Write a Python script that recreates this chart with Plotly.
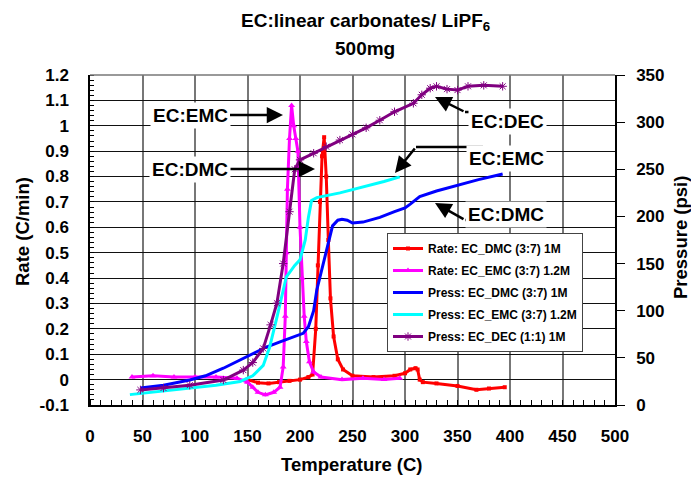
import plotly.graph_objects as go

# ---- data ----
rate_dmc_T = [150, 160, 170, 180, 190, 200, 208, 212, 215, 217, 219, 221, 223, 225, 227, 229, 232, 236, 241, 250, 270, 290, 300, 305, 310, 312, 314, 317, 330, 350, 368, 380, 395]
rate_dmc_v = [0.0, -0.012, -0.015, -0.01, -0.005, 0.0, 0.01, 0.02, 0.2, 0.45, 0.7, 0.88, 0.955, 0.8, 0.55, 0.32, 0.17, 0.08, 0.04, 0.015, 0.01, 0.015, 0.025, 0.04, 0.045, 0.04, 0.0, -0.01, -0.015, -0.025, -0.04, -0.035, -0.03]

rate_emc_T = [40, 60, 80, 100, 120, 140, 150, 155, 160, 167, 175, 181, 184, 186, 187, 188, 190, 192, 194, 196, 198, 200, 202, 204, 206, 209, 213, 220, 240, 260, 280, 295]
rate_emc_v = [0.01, 0.015, 0.01, 0.01, 0.01, 0.005, -0.01, -0.03, -0.05, -0.06, -0.05, -0.03, 0.05, 0.25, 0.5, 0.75, 0.95, 1.08, 1.0, 0.95, 0.9, 0.6, 0.4, 0.25, 0.15, 0.07, 0.03, 0.01, 0.0, 0.005, 0.0, 0.005]

press_dmc_T = [48, 70, 95, 110, 127, 149, 168, 181, 190, 203, 208, 213, 216, 219, 225, 231, 236, 240, 245, 250, 260, 276, 290, 300, 305, 314, 330, 350, 370, 393]
press_dmc_v = [18, 21, 26.5, 31, 39, 51, 61.5, 67, 71, 76, 83, 100, 122, 136, 165, 190, 196, 197, 196, 193, 194, 199, 205, 209, 213, 221, 227, 233, 239, 245]

press_emc_T = [38, 64, 95, 120, 143, 155, 165, 171, 178, 184, 187, 195, 200, 205, 208, 211, 216, 238, 260, 280, 295]
press_emc_v = [11, 14, 18, 21, 25, 31, 42, 61, 93, 122, 136, 148, 154, 175, 199, 217, 220, 225, 231, 237, 242]

press_dec_T = [48, 70, 95, 127, 146, 155, 165, 172, 178, 184, 190, 195, 200, 213, 225, 238, 250, 263, 276, 290, 308, 316, 324, 330, 340, 350, 360, 375, 393]
press_dec_v = [16, 18, 21, 26.5, 37, 45, 60, 85, 108, 150, 205, 250, 260, 267, 274, 281, 287, 294, 302, 311, 320, 329, 336, 338, 335, 334, 338, 339, 338]

x_ticks = [0, 50, 100, 150, 200, 250, 300, 350, 400, 450, 500]
y_ticks = [-0.1, 0, 0.1, 0.2, 0.3, 0.4, 0.5, 0.6, 0.7, 0.8, 0.9, 1, 1.1, 1.2]
y_tick_text = ["-0.1", "0", "0.1", "0.2", "0.3", "0.4", "0.5", "0.6", "0.7", "0.8", "0.9", "1", "1.1", "1.2"]
y2_ticks = [0, 50, 100, 150, 200, 250, 300, 350]

FONT = "Liberation Sans, Arial, sans-serif"
TICKF = dict(size=17, family=FONT, color="black")

fig = go.Figure()
fig.add_trace(go.Scatter(x=rate_dmc_T, y=rate_dmc_v, name="<b>Rate: EC_DMC (3:7) 1M</b>", legendgroup="a",
                         mode="lines+markers", line=dict(color="#FF0000", width=3),
                         marker=dict(symbol="square", size=4, color="#FF0000")))
fig.add_trace(go.Scatter(x=rate_emc_T, y=rate_emc_v, name="<b>Rate: EC_EMC (3:7) 1.2M</b>", legendgroup="b",
                         mode="lines+markers", line=dict(color="#FF00FF", width=3),
                         marker=dict(symbol="triangle-up", size=6, color="#FF00FF")))
fig.add_trace(go.Scatter(x=press_dmc_T, y=press_dmc_v, name="<b>Press: EC_DMC (3:7) 1M</b>", legendgroup="c",
                         mode="lines", line=dict(color="#0000FF", width=3), yaxis="y2"))
fig.add_trace(go.Scatter(x=press_emc_T, y=press_emc_v, name="<b>Press: EC_EMC (3:7) 1.2M</b>", legendgroup="d",
                         mode="lines", line=dict(color="#00FFFF", width=3), yaxis="y2"))
fig.add_trace(go.Scatter(x=press_dec_T, y=press_dec_v, name="<b>Press: EC_DEC (1:1) 1M</b>", legendgroup="e",
                         mode="lines+markers", line=dict(color="#800080", width=3), yaxis="y2",
                         marker=dict(symbol="asterisk-open", size=7, line=dict(color="#800080", width=1))))

L, R, T, B = 90, 615, 75, 405
W, H = 691, 478


def px(xp):
    return (xp - L) / (R - L)


def py(yp):
    return (B - yp) / (B - T)


fig.update_layout(
    width=W, height=H,
    margin=dict(l=L, r=W - R, t=T, b=H - B, autoexpand=False),
    paper_bgcolor="white", plot_bgcolor="white",
    font=dict(family=FONT, color="black"),
    showlegend=True,
    legend=dict(x=px(387), y=py(233), xanchor="left", yanchor="top",
                bgcolor="white", bordercolor="#444", borderwidth=1,
                font=dict(size=12, family=FONT), itemwidth=30,
                traceorder="grouped", tracegroupgap=3),
    xaxis=dict(range=[0, 500], tickvals=x_ticks, ticktext=["<b>%d</b>" % v for v in x_ticks],
               showgrid=True, gridcolor="#777", gridwidth=1.5, automargin=False,
               showline=True, linecolor="black", linewidth=1.5,
               ticks="", ticklabelstandoff=15, zeroline=False, tickfont=TICKF,
               minor=dict(dtick=10, ticks="inside", ticklen=5, tickcolor="black", showgrid=False)),
    yaxis=dict(range=[-0.1, 1.2], tickvals=y_ticks, ticktext=["<b>%s</b>" % t for t in y_tick_text],
               showgrid=True, gridcolor="#111", gridwidth=1, automargin=False,
               showline=True, linecolor="black", linewidth=1.5, zeroline=False,
               ticks="", ticklabelstandoff=16, tickfont=TICKF,
               minor=dict(dtick=0.02, ticks="inside", ticklen=4, tickcolor="black", showgrid=False)),
    yaxis2=dict(range=[0, 350], tickvals=y2_ticks, ticktext=["<b>%d</b>" % v for v in y2_ticks],
                overlaying="y", side="right", showgrid=False, zeroline=False, automargin=False,
                showline=True, linecolor="black", linewidth=1.5,
                ticks="outside", ticklen=8, tickcolor="black", tickwidth=1,
                ticklabelstandoff=8, tickfont=TICKF),
)

# top frame line
fig.add_shape(type="line", xref="paper", yref="paper", x0=0, x1=1, y0=1, y1=1,
              line=dict(color="#777", width=1.5))

# title
fig.add_annotation(text="<b>EC:linear carbonates/ LiPF<sub>6</sub></b>", xref="paper", yref="paper",
                   x=px(365), y=py(22), showarrow=False, font=dict(size=19, family=FONT),
                   xanchor="center", yanchor="middle")
fig.add_annotation(text="<b>500mg</b>", xref="paper", yref="paper",
                   x=px(365), y=py(49), showarrow=False, font=dict(size=19, family=FONT),
                   xanchor="center", yanchor="middle")

# axis titles
fig.add_annotation(text="<b>Temperature (C)</b>", xref="paper", yref="paper", x=px(352), y=py(464),
                   showarrow=False, font=dict(size=18.5, family=FONT), xanchor="center", yanchor="middle")
fig.add_annotation(text="<b>Rate (C/min)</b>", xref="paper", yref="paper", x=px(23), y=py(232),
                   showarrow=False, textangle=-90, font=dict(size=18.5, family=FONT),
                   xanchor="center", yanchor="middle")
fig.add_annotation(text="<b>Pressure (psi)</b>", xref="paper", yref="paper", x=px(680), y=py(238),
                   showarrow=False, textangle=-90, font=dict(size=18.5, family=FONT),
                   xanchor="center", yanchor="middle")

AF = dict(size=19, family=FONT, color="black")

# left-side labels with straight arrows
fig.add_annotation(text="<b>EC:EMC</b>", xref="paper", yref="paper", x=px(283), y=py(115),
                   ax=190 - 283, ay=0, showarrow=True, arrowhead=2, arrowsize=1.3, arrowwidth=2.5,
                   arrowcolor="black", font=AF, bgcolor="white", borderpad=2)
fig.add_annotation(text="<b>EC:DMC</b>", xref="paper", yref="paper", x=px(315), y=py(169),
                   ax=190 - 315, ay=0, showarrow=True, arrowhead=2, arrowsize=1.3, arrowwidth=2.5,
                   arrowcolor="black", font=AF, bgcolor="white", borderpad=2)

# right-side labels with elbow arrows
elbows = [
    ("EC:DEC", (547, 108), (498, 465, 112), (435, 97)),
    ("EC:EMC", (547, 145), (483, 416, 147), (395, 173)),
    ("EC:DMC", (547, 215), (498, 465, 220), (435, 203)),
]
for label, (tx, ty), (hx0, hx1, hy), (tipx, tipy) in elbows:
    fig.add_annotation(text="<b>%s</b>" % label, xref="paper", yref="paper", x=px(tx), y=py(ty),
                       showarrow=False, font=AF, bgcolor="white", borderpad=2)
    fig.add_shape(type="line", xref="paper", yref="paper", x0=px(hx0), x1=px(hx1),
                  y0=py(hy), y1=py(hy), line=dict(color="black", width=2.5))
    fig.add_annotation(text="", xref="paper", yref="paper", x=px(tipx), y=py(tipy),
                       axref="pixel", ayref="pixel", ax=hx1 - tipx, ay=hy - tipy,
                       showarrow=True, arrowhead=2, arrowsize=1.3, arrowwidth=2.5, arrowcolor="black")

fig.write_html("out.html")
